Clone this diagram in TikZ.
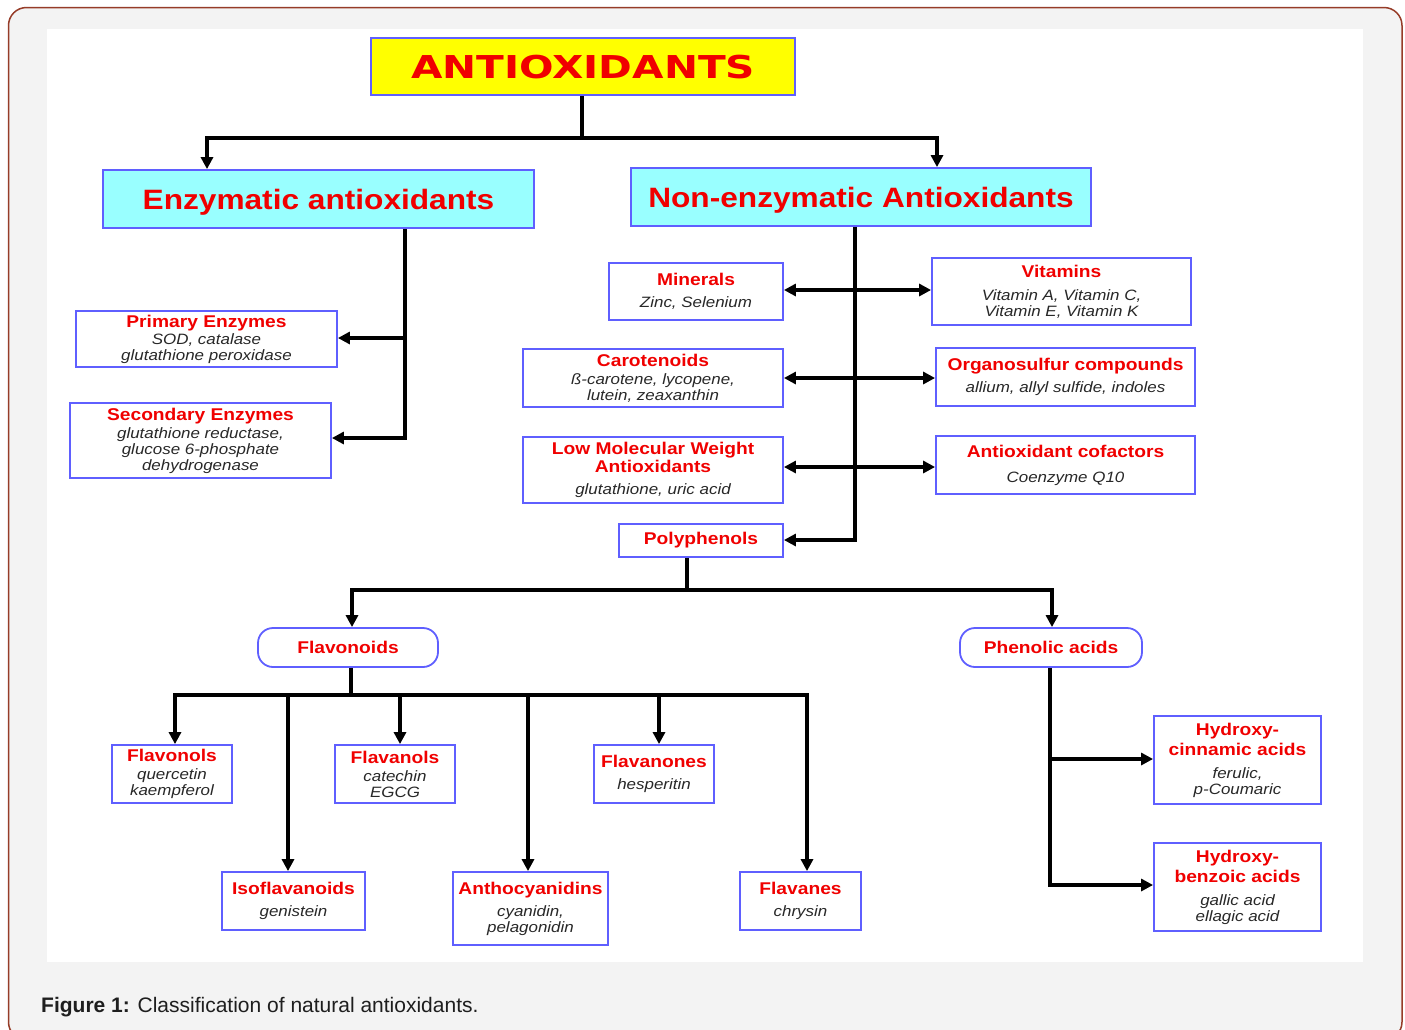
\documentclass[tikz,border=0pt]{standalone}
\usepackage{fontspec}
\setmainfont{Liberation Sans}[FakeStretch=1.13]
\newfontfamily\capfont{Liberation Sans}
\newfontfamily\blackfont{DejaVu Sans}[FakeStretch=1.29]
\usetikzlibrary{arrows.meta}
\definecolor{tred}{RGB}{240,0,0}
\definecolor{bblue}{RGB}{95,95,255}
\definecolor{subc}{RGB}{40,40,40}
\definecolor{ylw}{RGB}{255,255,0}
\definecolor{cyn}{RGB}{153,255,255}
\definecolor{frm}{RGB}{150,60,40}
\definecolor{bgc}{RGB}{243,243,243}
\newcommand\ttl[1]{{\fontsize{17}{18}\selectfont\upshape\bfseries\color{tred}#1}}
\begin{document}
\begin{tikzpicture}[x=1pt,y=-1pt,
  bxat/.style args={#1/#2/#3/#4}{minimum width={(#3-#1)*1pt}, minimum height={(#4-#2)*1pt}, at={({(#1+#3)/2},{(#2+#4)/2})}},
  box/.style={draw=bblue, line width=1.8pt, fill=white, inner sep=0pt, align=center, text=subc, font=\fontsize{15}{16}\selectfont\itshape},
  rbox/.style={box, rounded corners=15pt},
  bigbox/.style={draw=bblue, line width=1.8pt, fill=cyn, inner sep=0pt, text=tred, text height=20pt, text depth=0pt, font=\fontsize{28}{30}\selectfont\bfseries},
  conn/.style={line width=3.2pt, draw=black},
  arr/.style={conn, -{Triangle[length=12pt,width=12pt]}},
  darr/.style={conn, {Triangle[length=12pt,width=12pt]}-{Triangle[length=12pt,width=12pt]}}
]
\clip (0,0) rectangle (1405,1029);
\fill[white] (0,0) rectangle (1405,1029);
\draw[draw=frm, line width=1.5pt, fill=bgc, rounded corners=18pt] (8.5,7.5) rectangle (1402,1040);
\fill[white] (47,29) rectangle (1363,962);

% nodes
\node[bxat=371/38/795/95, draw=bblue, line width=1.8pt, fill=ylw, inner sep=0pt, text=tred, text height=23pt, text depth=0pt] (anti)
  {\blackfont\bfseries\fontsize{31.5}{32}\selectfont ANTIOXIDANTS};
\node[bigbox, bxat=103/170/534/228] (enz) {Enzymatic antioxidants};
\node[bigbox, bxat=631/168/1091/226] (nonenz) {Non-enzymatic Antioxidants};

\node[box, bxat=76/311/337/367] (prim) {\ttl{Primary Enzymes}\\[1pt]SOD, catalase\\glutathione peroxidase};
\node[box, bxat=70/403/331/478] (sec) {\ttl{Secondary Enzymes}\\[2pt]glutathione reductase,\\glucose 6-phosphate\\dehydrogenase};

\node[box, bxat=609/263/783/320] (min) {\ttl{Minerals}\\[6pt]Zinc, Selenium};
\node[box, bxat=932/258/1191/325] (vit) {\ttl{Vitamins}\\[7pt]Vitamin A, Vitamin C,\\Vitamin E, Vitamin K};
\node[box, bxat=523/349/783/407] (car) {\ttl{Carotenoids}\\[2pt]ß-carotene, lycopene,\\lutein, zeaxanthin};
\node[box, bxat=936/348/1195/406] (org) {\ttl{Organosulfur compounds}\\[6pt]allium, allyl sulfide, indoles};
\node[box, bxat=523/437/783/503] (lmw) {\ttl{Low Molecular Weight}\\[2pt]\ttl{Antioxidants}\\[6pt]glutathione, uric acid};
\node[box, bxat=936/436/1195/494] (cof) {\ttl{Antioxidant cofactors}\\[9pt]Coenzyme Q10};
\node[box, bxat=619/524/783/557] (poly) {\ttl{Polyphenols}};

\node[rbox, bxat=258/628/438/667] (flvd) {\ttl{Flavonoids}};
\node[rbox, bxat=960/628/1142/667] (phen) {\ttl{Phenolic acids}};

\node[box, bxat=112/745/232/803] (flvl) {\ttl{Flavonols}\\[2pt]quercetin\\kaempferol};
\node[box, bxat=335/745/455/803] (flvn) {\ttl{Flavanols}\\[2pt]catechin\\EGCG};
\node[box, bxat=594/745/714/803] (flvo) {\ttl{Flavanones}\\[6pt]hesperitin};
\node[box, bxat=222/872/365/930] (iso) {\ttl{Isoflavanoids}\\[6pt]genistein};
\node[box, bxat=453/872/608/945] (antho) {\ttl{Anthocyanidins}\\[6pt]cyanidin,\\pelagonidin};
\node[box, bxat=740/872/861/930] (flvs) {\ttl{Flavanes}\\[6pt]chrysin};

\node[box, bxat=1154/716/1321/804] (hc) {\ttl{Hydroxy-}\\[4pt]\ttl{cinnamic acids}\\[7pt]ferulic,\\p-Coumaric};
\node[box, bxat=1154/843/1321/931] (hb) {\ttl{Hydroxy-}\\[4pt]\ttl{benzoic acids}\\[7pt]gallic acid\\ellagic acid};

\node[anchor=base west, inner sep=0pt, text={rgb,255:red,30;green,30;blue,30}, font=\capfont\fontsize{21}{21}\selectfont] (cap) at (41,1012)
  {\textbf{Figure 1:} Classification of natural antioxidants.};

% connectors
\coordinate (jt) at (582,138);
\draw[conn] (582,0 |- anti.south) -- (jt);
\draw[arr] (jt) -| (207,0 |- enz.north);
\draw[arr] (jt) -| (937,0 |- nonenz.north);

\draw[conn] (405,0 |- enz.south) -- (405,439.6);
\draw[arr] (405,0 |- 0,338) -- (prim.east |- 0,338);
\draw[arr] (405,0 |- 0,438) -- (sec.east |- 0,438);

\draw[conn] (855,0 |- nonenz.south) -- (855,541.6);
\draw[arr] (855,540) -- (poly.east |- 0,540);
\draw[darr] (min.east |- 0,290) -- (vit.west |- 0,290);
\draw[darr] (car.east |- 0,378) -- (org.west |- 0,378);
\draw[darr] (lmw.east |- 0,467) -- (cof.west |- 0,467);

\coordinate (jp) at (687,590);
\draw[conn] (687,0 |- poly.south) -- (jp);
\draw[arr] (jp) -| (352,0 |- flvd.north);
\draw[arr] (jp) -| (1052,0 |- phen.north);

\coordinate (jf) at (351,695);
\draw[conn] (351,0 |- flvd.south) -- (jf);
\draw[conn] (173.4,695) -- (808.6,695);
\draw[arr] (175,693.4) -- (175,0 |- flvl.north);
\draw[arr] (288,693.4) -- (288,0 |- iso.north);
\draw[arr] (400,693.4) -- (400,0 |- flvn.north);
\draw[arr] (528,693.4) -- (528,0 |- antho.north);
\draw[arr] (659,693.4) -- (659,0 |- flvo.north);
\draw[arr] (807,693.4) -- (807,0 |- flvs.north);

\draw[conn] (1050,0 |- phen.south) -- (1050,886.6);
\draw[arr] (1048.4,759) -- (hc.west |- 0,759);
\draw[arr] (1048.4,885) -- (hb.west |- 0,885);
\end{tikzpicture}
\end{document}
